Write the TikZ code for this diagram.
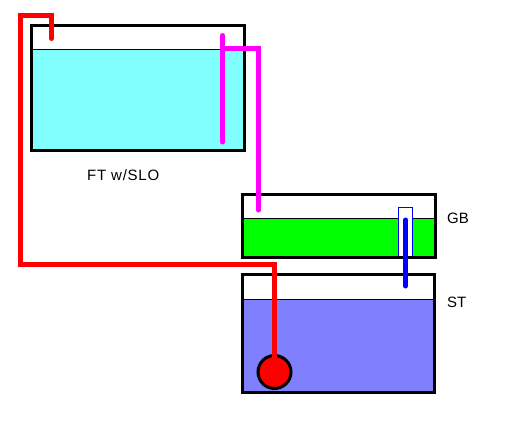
\documentclass[tikz,border=0pt]{standalone}
\usepackage{fontspec}
\setmainfont{Liberation Sans}
\definecolor{ftwater}{HTML}{80FFFF}
\definecolor{gbwater}{HTML}{00FF00}
\definecolor{stwater}{HTML}{8080FF}
\definecolor{pipered}{HTML}{FF0000}
\definecolor{pipemag}{HTML}{FF00FF}
\definecolor{pipeblue}{HTML}{0000FF}
\tikzset{
  tankbox/.style={draw=black,line width=3pt,fill=none},
  level/.style={draw=black,line width=1pt},
  pipe/.style={line width=5pt,line cap=round,line join=miter},
  lab/.style={font=\fontsize{15}{17}\selectfont,text=black,inner sep=0pt,anchor=base west},
}
\begin{document}
\begin{tikzpicture}[x=1pt,y=-1pt]
\useasboundingbox (0,0) rectangle (514,445);
\fill[white] (0,0) rectangle (514,445);
% liquids
\fill[ftwater] (31.5,49.5) rectangle (244.5,150.5);
\fill[gbwater] (242.5,218.5) rectangle (435,257.5);
\fill[stwater] (242,299.5) rectangle (434,392);
\draw[level] (31.5,49.5) -- (244.5,49.5);
\draw[level] (242.5,218.5) -- (435,218.5);
\draw[level] (242,299.5) -- (434,299.5);
% tanks
\node[tankbox,minimum width=213pt,minimum height=125pt,inner sep=0pt] (ft) at (138,88) {};
\node[tankbox,minimum width=193pt,minimum height=63pt,inner sep=0pt] (gb) at (339,226) {};
\node[tankbox,minimum width=192pt,minimum height=118pt,inner sep=0pt] (st) at (338,333) {};
% standpipe
\fill[white] (398.5,207.5) rectangle (412.5,256);
\draw[pipeblue,line width=1pt] (398.5,256) -- (398.5,207.5) -- (412.5,207.5) -- (412.5,256);
% pump
\node[circle,draw=black,line width=3pt,fill=pipered,minimum size=33pt,inner sep=0pt] (pump) at (274.5,372) {};
% pipe points
\coordinate (r1) at (51.5,38.5);
\coordinate (r2) at (51.5,15.5);
\coordinate (r3) at (20,15.5);
\coordinate (r4) at (20,264.5);
\coordinate (r5) at (274.5,264.5);
\coordinate (m1) at (222.5,35.5);
\coordinate (m2) at (222.5,142);
\coordinate (m3) at (222.5,48.5);
\coordinate (m4) at (258.5,48.5);
\coordinate (m5) at (258.5,210);
\coordinate (b1) at (405.5,220);
\coordinate (b2) at (405.5,286);
\draw[pipe,pipered] (r1) -- (r2) -- (r3) -- (r4) -- (r5) -- (pump.center);
\draw[pipe,pipemag] (m1) -- (m2);
\draw[pipe,pipemag] (m3) -- (m4) -- (m5);
\draw[pipe,pipeblue] (b1) -- (b2);
% labels
\node[lab] (ftl) at (87,180) {\addfontfeatures{LetterSpace=5}FT w/SLO};
\node[lab] (gbl) at (447,223) {GB};
\node[lab] (stl) at (447,307) {ST};
\end{tikzpicture}
\end{document}
